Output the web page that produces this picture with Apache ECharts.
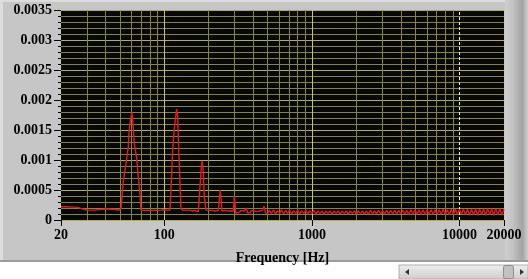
<!DOCTYPE html>
<html><head><meta charset="utf-8">
<script src="https://cdn.jsdelivr.net/npm/echarts@6/dist/echarts.min.js"></script>
<style>html,body{margin:0;padding:0;background:#fff;}#c{width:528px;height:279px;}</style>
</head><body><div id="c"></div>
<script>
// ---- data ----
const freqLow = [
  20, 22, 24, 26, 27.5, 29, 30.5, 33, 35, 37,
  39, 41, 43, 45, 47, 49, 50.5, 51, 52.8, 55.1,
  57.1, 58, 59.3, 60.2, 61.2, 62.7, 65.1, 66.7, 68.5, 69.6,
  72, 76, 80, 85, 90, 95, 100, 104, 107, 109.4,
  111.1, 114.1, 116.5, 118.8, 121.4, 123.4, 125.3, 127.9, 129.9, 133,
  137, 141, 145, 150, 155, 160, 165, 170.1, 174.7, 179.3,
  181.3, 183.9, 186.8, 191.8, 196, 201, 206, 211, 216, 222,
  228, 232.2, 235.9, 239.7, 243, 246, 252, 258, 264, 270,
  276, 282, 288, 293.6, 298.9, 302, 305, 312, 318, 326,
  333, 340, 347, 355, 361, 366, 373, 381, 390, 398,
  407, 416, 425, 434, 444, 454, 464, 474, 484, 494
];
const ampLow = [
  0.00022, 0.00022, 0.000215, 0.00021, 0.00019, 0.000175, 0.000165, 0.000165, 0.00017, 0.000175,
  0.00018, 0.000185, 0.00018, 0.000175, 0.000175, 0.00016, 0.00014, 0.000195, 0.00064, 0.00094,
  0.00122, 0.00153, 0.00156, 0.00179, 0.00167, 0.00128, 0.00103, 0.00072, 0.00044, 0.000165,
  0.00016, 0.000165, 0.00016, 0.000165, 0.00016, 0.000165, 0.00017, 0.000165, 0.00018, 0.000165,
  0.0005, 0.00117, 0.00147, 0.00167, 0.00185, 0.00172, 0.00117, 0.00061, 0.000195, 0.00016,
  0.00015, 0.000165, 0.00014, 0.000165, 0.00015, 0.00016, 0.000165, 0.00014, 0.00056, 0.00094,
  0.00098, 0.0008, 0.00039, 0.000165, 0.00014, 0.00016, 0.00013, 0.00016, 0.00014, 0.00015,
  0.00013, 0.00016, 0.00033, 0.0005, 0.00035, 0.00015, 0.00013, 0.00016, 0.00013, 0.00015,
  0.00013, 0.00015, 0.00012, 0.00015, 0.0004, 0.00025, 0.00012, 0.00015, 0.00012, 0.00014,
  0.00016, 0.00013, 0.00015, 0.00013, 0.0002, 0.00012, 0.00015, 0.00012, 0.00016, 0.00013,
  0.00015, 0.00012, 0.00014, 0.00012, 0.00015, 0.00013, 0.00016, 0.00023, 0.00012, 0.00015
];
const freqHigh = [
  500, 516, 532, 549, 567, 585, 604, 623, 643, 664,
  685, 707, 730, 753, 777, 802, 828, 854, 882, 910,
  939, 969, 1000, 1032, 1065, 1099, 1134, 1171, 1208, 1247,
  1287, 1328, 1371, 1415, 1460, 1507, 1555, 1605, 1656, 1709,
  1764, 1820, 1879, 1939, 2001, 2065, 2131, 2199, 2270, 2342,
  2417, 2495, 2575, 2657, 2742, 2830, 2921, 3014, 3111, 3210,
  3313, 3419, 3528, 3641, 3758, 3878, 4002, 4130, 4262, 4399,
  4539, 4685, 4835, 4989, 5149, 5314, 5484, 5659, 5840, 6027,
  6220, 6419, 6624, 6836, 7055, 7281, 7514, 7754, 8002, 8258,
  8523, 8795, 9077, 9367, 9667, 9976, 10296, 10625, 10965, 11316,
  11678, 12052, 12437, 12835, 13246, 13670, 14107, 14559, 15025, 15506,
  16002, 16514, 17042, 17588, 18150, 18731, 19331, 20000
];
const ampHigh = [
  0.0001, 0.00016, 0.00011, 0.00017, 0.0001, 0.00015, 0.00011, 0.00017, 0.0001, 0.00016,
  0.00011, 0.00016, 0.0001, 0.00015, 0.00011, 0.00016, 0.0001, 0.00015, 0.00011, 0.00016,
  0.0001, 0.00015, 0.00011, 0.00016, 0.0001, 0.00015, 0.00011, 0.00015, 0.0001, 0.00015,
  0.00011, 0.00015, 0.0001, 0.00015, 0.00011, 0.00015, 0.0001, 0.00015, 0.00011, 0.00015,
  0.0001, 0.00015, 0.00011, 0.00015, 0.0001, 0.00015, 0.00011, 0.00015, 0.0001, 0.00015,
  0.0001, 0.00016, 0.0001, 0.00015, 0.0001, 0.00016, 0.0001, 0.00015, 0.0001, 0.00016,
  0.0001, 0.00016, 0.0001, 0.00016, 0.0001, 0.00016, 0.0001, 0.00016, 0.0001, 0.00016,
  0.00009, 0.00017, 0.00009, 0.00017, 0.00009, 0.00017, 0.00009, 0.00017, 0.00009, 0.00017,
  0.00009, 0.00017, 0.00009, 0.00017, 0.00009, 0.00017, 0.00009, 0.00018, 0.00009, 0.00017,
  0.00009, 0.00018, 0.00009, 0.00018, 0.00009, 0.00018, 0.00009, 0.00018, 0.00009, 0.00018,
  0.00008, 0.00018, 0.00009, 0.00019, 0.00008, 0.00018, 0.00009, 0.00019, 0.00008, 0.00019,
  0.00009, 0.00019, 0.00008, 0.00019, 0.00009, 0.00019, 0.00008, 0.00018
];
const xMin = 20, xMax = 20000;
const yMin = 0, yMax = 0.0035, yStep = 0.0005;
const xMinorGrid = [30, 40, 50, 60, 70, 80, 90, 200, 300, 400, 500, 600, 700, 800, 900,
  2000, 3000, 4000, 5000, 6000, 7000, 8000, 9000];
const xMajorGrid = [100, 1000];
const cursorFreq = 10000;
const xTitle = 'Frequency [Hz]';

// ---- build ----
const freqs = freqLow.concat(freqHigh);
const amps = ampLow.concat(ampHigh);
const seriesData = freqs.map((f, i) => [f, amps[i]]);

const FONT = 'Liberation Serif';
const gridLines = []
  .concat(xMinorGrid.map(v => ({ xAxis: v, lineStyle: { color: '#86863a', width: 1, type: 'solid' } })))
  .concat(xMajorGrid.map(v => ({ xAxis: v, lineStyle: { color: '#c8c85c', width: 1, type: 'solid' } })));

const chart = echarts.init(document.getElementById('c'), null, { renderer: 'canvas' });
chart.setOption({
  animation: false,
  backgroundColor: '#ffffff',
  graphic: [
    { type: 'rect', z: -100, silent: true, shape: { x: 0, y: 0, width: 528, height: 262 }, style: { fill: '#c6c6c6' } },
    { type: 'rect', z: -99, silent: true, shape: { x: 0, y: 0, width: 528, height: 2 }, style: { fill: '#dcdcdc' } },
    { type: 'rect', z: -99, silent: true, shape: { x: 0, y: 0, width: 3, height: 262 }, style: { fill: '#dedede' } },
    { type: 'rect', z: -99, silent: true, shape: { x: 505, y: 0, width: 23, height: 262 },
      style: { fill: new echarts.graphic.LinearGradient(0, 0, 1, 0, [
        { offset: 0, color: '#cecece' }, { offset: 0.35, color: '#c2c2c2' },
        { offset: 0.75, color: '#a4a4a4' }, { offset: 1, color: '#cfcfcf' }]) } },
    { type: 'rect', z: -99, silent: true, shape: { x: 0, y: 260, width: 528, height: 2 }, style: { fill: '#9c9c9c' } },
    // scrollbar
    { type: 'rect', silent: true, shape: { x: 399, y: 265, width: 129, height: 14 },
      style: { fill: new echarts.graphic.LinearGradient(0, 0, 0, 1, [
        { offset: 0, color: '#efefef' }, { offset: 1, color: '#cdcdcd' }]), stroke: '#b0b0b0', lineWidth: 1 } },
    { type: 'polygon', silent: true, shape: { points: [[405, 272], [409, 269], [409, 275]] }, style: { fill: '#333' } },
    { type: 'rect', silent: true, shape: { x: 503.5, y: 265.5, width: 10, height: 13, r: 2 },
      style: { fill: '#c2c2c2', stroke: '#8c8c8c', lineWidth: 1 } },
    { type: 'polygon', silent: true, shape: { points: [[524, 272], [520, 269], [520, 275]] }, style: { fill: '#333' } }
  ],
  grid: { left: 61, right: 24, top: 10, bottom: 59, show: true, backgroundColor: '#070707', borderWidth: 0 },
  xAxis: {
    type: 'log', logBase: 10, min: xMin, max: xMax,
    name: xTitle, nameLocation: 'middle', nameGap: 31,
    nameTextStyle: { fontFamily: FONT, fontWeight: 'bold', fontSize: 14, color: '#000' },
    axisLine: { show: false },
    axisTick: { show: true, length: 6, lineStyle: { color: '#000' } },
    axisLabel: { show: true, margin: 8, color: '#000', fontFamily: FONT, fontWeight: 'bold', fontSize: 14,
      showMinLabel: true, showMaxLabel: true, hideOverlap: false,
      formatter: v => String(Math.round(v)) },
    splitLine: { show: false }
  },
  yAxis: {
    type: 'value', min: yMin, max: yMax, interval: yStep,
    axisLine: { show: false },
    axisTick: { show: true, length: 7, lineStyle: { color: '#000' } },
    minorTick: { show: true, splitNumber: 5, length: 3, lineStyle: { color: '#000' } },
    splitLine: { show: true, lineStyle: { color: '#b0b04c', width: 1 } },
    minorSplitLine: { show: true, lineStyle: { color: '#86863a', width: 1 } },
    axisLabel: { margin: 9, color: '#000', fontFamily: FONT, fontWeight: 'bold', fontSize: 14 }
  },
  series: [
    {
      type: 'line', data: [], z: 1, silent: true,
      markLine: {
        silent: true, symbol: ['none', 'none'], label: { show: false }, animation: false,
        data: gridLines.concat([{ xAxis: cursorFreq, lineStyle: { color: '#f4f4a0', width: 1, type: [3, 2] } }])
      }
    },
    {
      type: 'line', data: seriesData, z: 5, showSymbol: false, symbol: 'none',
      lineStyle: { color: '#e81818', width: 1.4 }, clip: true
    }
  ]
});
</script></body></html>
